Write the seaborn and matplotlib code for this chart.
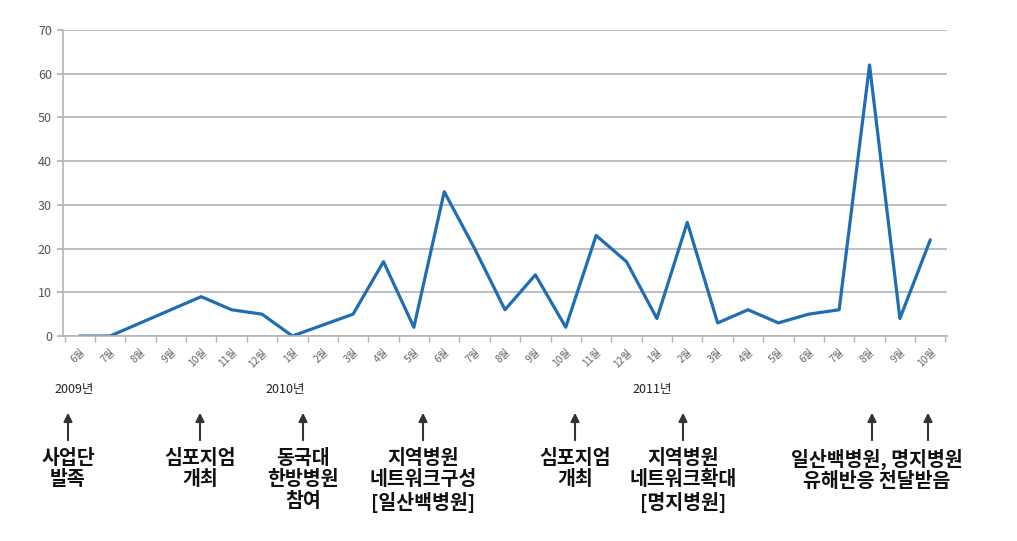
import matplotlib
matplotlib.use("Agg")
import matplotlib.pyplot as plt
import seaborn as sns
import pandas as pd
import numpy as np

months = ["6월", "7월", "8월", "9월", "10월", "11월", "12월",
          "1월", "2월", "3월", "4월", "5월", "6월", "7월", "8월", "9월", "10월", "11월", "12월",
          "1월", "2월", "3월", "4월", "5월", "6월", "7월", "8월", "9월", "10월"]
values = [0, 0, 3, 6, 9, 6, 5,
          0, 2.5, 5, 17, 2, 33, 20, 6, 14, 2, 23, 17,
          4, 26, 3, 6, 3, 5, 6, 62, 4, 22]
years = ["2009년", "2010년", "2011년"]
year_pos = [74, 285, 652]  # pixel x positions
events = ["사업단\n발족", "심포지엄\n개최", "동국대\n한방병원\n참여", "지역병원\n네트워크구성\n[일산백병원]",
          "심포지엄\n개최", "지역병원\n네트워크확대\n[명지병원]", "일산백병원, 명지병원\n유해반응 전달받음"]

sns.set_theme(style="white")
plt.rcParams['font.family'] = ['Noto Sans CJK KR', 'DejaVu Sans']

W, H = 1017, 541
fig = plt.figure(figsize=(W / 100, H / 100), dpi=100)
ax = fig.add_axes([63 / W, 1 - 336 / H, (947 - 63) / W, (336 - 30) / H])

df = pd.DataFrame({"idx": np.arange(len(values)), "val": values})
sns.lineplot(data=df, x="idx", y="val", ax=ax, color="#1f6db3", linewidth=2.3)

ax.set_xlim(-0.55, len(values) - 0.45)
ax.set_ylim(0, 70)
ax.set_yticks(range(0, 71, 10))
ax.yaxis.grid(True, color="#b4b4b4", linewidth=1.2)
ax.set_axisbelow(True)
for s in ["top", "right"]:
    ax.spines[s].set_visible(False)
ax.spines["left"].set_color("#b4b4b4")
ax.spines["bottom"].set_color("#b4b4b4")
ax.spines["left"].set_linewidth(1.2)
ax.spines["bottom"].set_linewidth(1.2)
ax.set_xlabel("")
ax.set_ylabel("")
ax.tick_params(axis="y", labelsize=9, labelcolor="#555555", length=4, color="#b4b4b4", left=True, pad=4)

ax.set_xticks(np.arange(len(values)))
ax.set_xticklabels(months, rotation=45, ha="right", rotation_mode="anchor", fontsize=7.5, color="#666666")
ax.tick_params(axis="x", length=0, pad=8)
ax.set_xticks(np.arange(-0.5, len(values), 1), minor=True)
ax.tick_params(axis="x", which="minor", length=4, color="#b4b4b4", bottom=True)

for y, xp in zip(years, year_pos):
    fig.text(xp / W, 1 - 390 / H, y, ha="center", va="center", fontsize=9, color="#222222")

arrow_x = [68, 200, 303, 423, 575, 683, 872, 928]
for xa in arrow_x:
    fig.patches.append(matplotlib.patches.FancyArrowPatch(
        (xa / W, 1 - 443 / H), (xa / W, 1 - 410 / H), transform=fig.transFigure,
        arrowstyle="-|>,head_length=5,head_width=2.5", color="#333333", linewidth=1.5, mutation_scale=1))

text_x = [68, 200, 303, 423, 575, 683, 877]
for tx, ev in zip(text_x, events):
    fig.text(tx / W, 1 - 449 / H, ev, ha="center", va="top", fontsize=14, color="#111111",
             linespacing=1.15, fontweight="bold")

fig.savefig("out.png", dpi=100, facecolor="white")
